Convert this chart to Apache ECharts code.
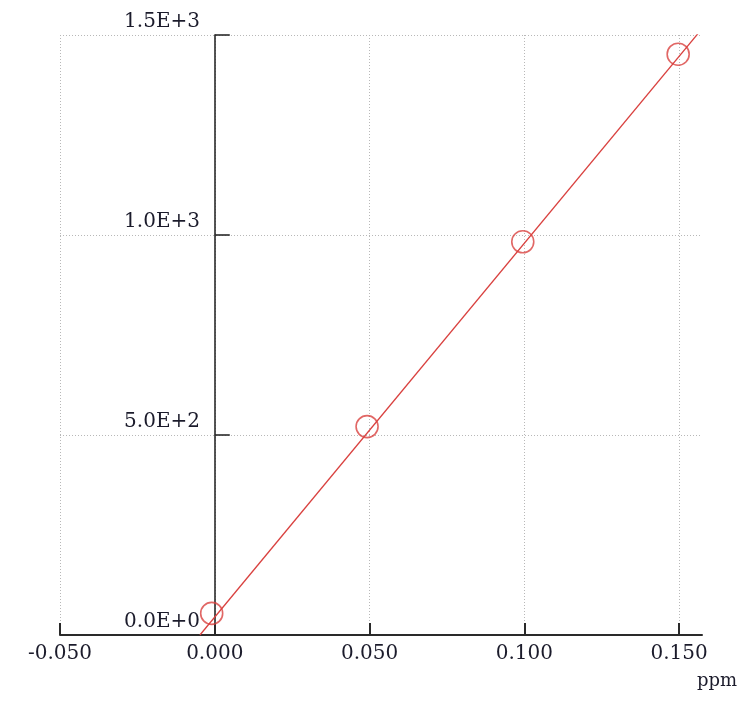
<!DOCTYPE html>
<html>
<head>
<meta charset="utf-8">
<script src="https://cdn.jsdelivr.net/npm/echarts@6/dist/echarts.min.js"></script>
<style>
  html, body { margin: 0; padding: 0; background: #fff; }
  #chart { width: 742px; height: 701px; }
</style>
</head>
<body>
<div id="chart"></div>
<script>
// calibration standards (ppm vs. signal)
const concentrations = [-0.001, 0.0492, 0.0995, 0.1497]
const intensities = [54, 521, 983, 1452]

// fitted calibration line, read at its two visible ends
const fitX = [-0.0048, 0.157]
const fitY = [0, 1512]

const xTicks = [-0.05, 0, 0.05, 0.1, 0.15]

const FONT = 'DejaVu Serif'
const TEXT = '#1b1b2b'
const RED = '#d9413f'
const GRID = { color: '#b8b8b8', type: [1, 2], width: 1 }

let chart = echarts.init(document.getElementById('chart'), null, { renderer: 'canvas' })

chart.setOption({
  animation: false,
  backgroundColor: '#fff',
  grid: { left: 60, right: 40, top: 35, bottom: 66, containLabel: false, outerBoundsMode: 'none' },
  xAxis: {
    type: 'value',
    min: -0.05,
    max: 0.1574,
    interval: 0.05,
    name: 'ppm',
    nameLocation: 'end',
    nameGap: 35,
    nameTextStyle: {
      fontFamily: FONT, fontSize: 18, color: TEXT,
      align: 'right', verticalAlign: 'top', padding: [37, 0, 0, 0]
    },
    axisLine: { onZero: false, lineStyle: { color: '#2a2a2a', width: 2 } },
    axisTick: { inside: true, length: 12, customValues: xTicks, lineStyle: { color: '#2a2a2a', width: 2 } },
    axisLabel: {
      customValues: xTicks,
      margin: 9,
      fontFamily: FONT, fontSize: 20, color: TEXT,
      formatter: v => v.toFixed(3)
    },
    splitLine: { show: true, lineStyle: GRID }
  },
  yAxis: [
    {
      // labels + gridlines, anchored on the left edge of the plot
      type: 'value',
      position: 'left',
      min: 0,
      max: 1500,
      interval: 500,
      axisLine: { show: false, onZero: false },
      axisTick: { show: false },
      axisLabel: {
        inside: true,
        align: 'right',
        margin: 140,
        fontFamily: FONT, fontSize: 20, color: TEXT,
        verticalAlign: 'bottom',
        padding: [0, 0, 3, 0],
        formatter: v => v.toExponential(1).toUpperCase()
      },
      splitLine: { show: true, lineStyle: GRID }
    },
    {
      // the visible axis line sitting on x = 0
      type: 'value',
      position: 'left',
      min: 0,
      max: 1500,
      interval: 500,
      axisLine: { show: true, onZero: true, lineStyle: { color: '#2a2a2a', width: 1.6 } },
      axisTick: { show: true, inside: true, length: 15, lineStyle: { color: '#2a2a2a', width: 1.6 } },
      axisLabel: { show: false },
      splitLine: { show: false }
    }
  ],
  series: [
    {
      type: 'line',
      data: fitX.map((x, i) => [x, fitY[i]]),
      symbol: 'none',
      clip: true,
      lineStyle: { color: RED, width: 1.3 },
      z: 2
    },
    {
      type: 'scatter',
      data: concentrations.map((x, i) => [x, intensities[i]]),
      symbol: 'circle',
      symbolSize: 22,
      itemStyle: { color: 'rgba(0,0,0,0)', borderColor: RED, borderWidth: 1.6 },
      z: 3
    }
  ]
})
</script>
</body>
</html>
